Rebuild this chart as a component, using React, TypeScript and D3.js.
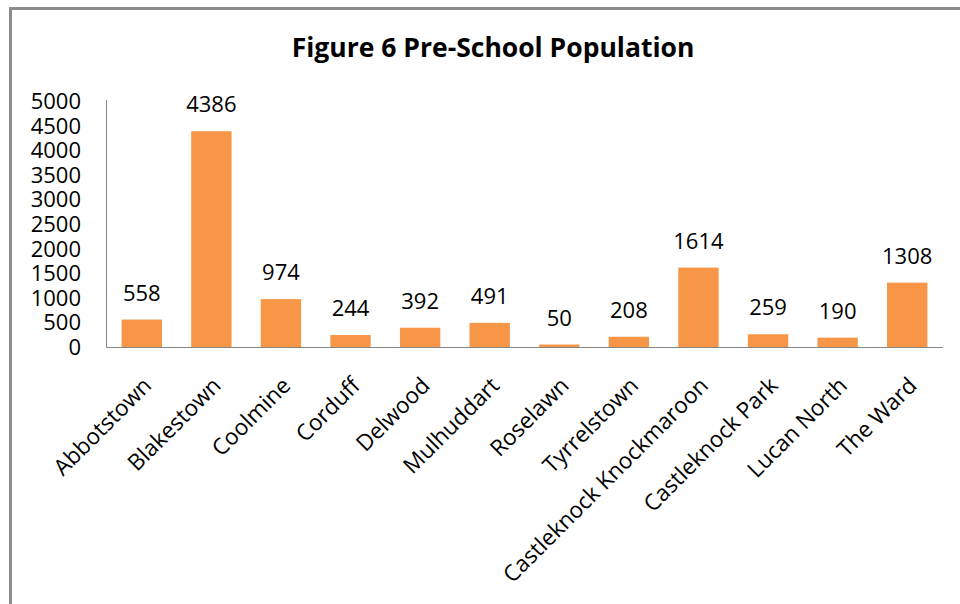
import React, { useEffect, useRef } from "react";
import * as d3 from "d3";

const categories = [
  "Abbotstown",
  "Blakestown",
  "Coolmine",
  "Corduff",
  "Delwood",
  "Mulhuddart",
  "Roselawn",
  "Tyrrelstown",
  "Castleknock Knockmaroon",
  "Castleknock Park",
  "Lucan North",
  "The Ward",
];
const values = [558, 4386, 974, 244, 392, 491, 50, 208, 1614, 259, 190, 1308];
const yTicks = [0, 500, 1000, 1500, 2000, 2500, 3000, 3500, 4000, 4500, 5000];
const title = "Figure 6 Pre-School Population";

const W = 960;
const H = 604;
const FONT = "'Open Sans', sans-serif";

export default function App() {
  const ref = useRef<SVGSVGElement | null>(null);

  useEffect(() => {
    const svg = d3.select(ref.current);
    svg.selectAll("*").remove();

    // chart frame
    svg
      .append("rect")
      .attr("x", 10.5)
      .attr("y", 8.5)
      .attr("width", W + 20)
      .attr("height", H + 20)
      .attr("fill", "#fff")
      .attr("stroke", "#8c8c8c")
      .attr("stroke-width", 3);

    svg
      .append("text")
      .attr("x", 493)
      .attr("y", 57)
      .attr("text-anchor", "middle")
      .attr("font-family", FONT)
      .attr("font-weight", "bold")
      .attr("font-size", 26.5)
      .attr("fill", "#000")
      .text(title);

    const x = d3
      .scaleBand<string>()
      .domain(categories)
      .range([107, 942])
      .paddingInner(0.42)
      .paddingOuter(0.21);

    const y = d3.scaleLinear().domain([0, 5000]).range([347, 101]);

    // y tick labels
    svg
      .append("g")
      .selectAll("text")
      .data(yTicks)
      .join("text")
      .attr("x", 81)
      .attr("y", (d) => y(d))
      .attr("dy", "0.36em")
      .attr("text-anchor", "end")
      .attr("font-family", FONT)
      .attr("font-size", 22)
      .attr("fill", "#000")
      .text((d) => String(d));

    // bars
    svg
      .append("g")
      .selectAll("rect")
      .data(values)
      .join("rect")
      .attr("x", (_, i) => x(categories[i])!)
      .attr("y", (d) => y(d))
      .attr("width", x.bandwidth())
      .attr("height", (d) => y(0) - y(d))
      .attr("fill", "#F79646");

    // axes lines
    svg
      .append("line")
      .attr("x1", 106.5)
      .attr("x2", 106.5)
      .attr("y1", 100)
      .attr("y2", 347.5)
      .attr("stroke", "#868686")
      .attr("stroke-width", 1);
    svg
      .append("line")
      .attr("x1", 106.5)
      .attr("x2", 943)
      .attr("y1", 347.5)
      .attr("y2", 347.5)
      .attr("stroke", "#868686")
      .attr("stroke-width", 1);

    // value labels
    svg
      .append("g")
      .selectAll("text")
      .data(values)
      .join("text")
      .attr("x", (_, i) => x(categories[i])! + x.bandwidth() / 2)
      .attr("y", (d) => y(d) - 19)
      .attr("text-anchor", "middle")
      .attr("font-family", FONT)
      .attr("font-size", 22)
      .attr("fill", "#000")
      .text((d) => String(d));

    // category labels, rotated
    svg
      .append("g")
      .selectAll("text")
      .data(categories)
      .join("text")
      .attr("transform", (d) => {
        const cx = x(d)! + x.bandwidth() / 2 + 11;
        return `translate(${cx},${387}) rotate(-45)`;
      })
      .attr("text-anchor", "end")
      .attr("font-family", FONT)
      .attr("font-size", 22.5)
      .attr("fill", "#000")
      .text((d) => d);
  }, []);

  return (
    <svg
      ref={ref}
      width={W}
      height={H}
      style={{ position: "absolute", left: 0, top: 0, background: "#fff" }}
    />
  );
}
